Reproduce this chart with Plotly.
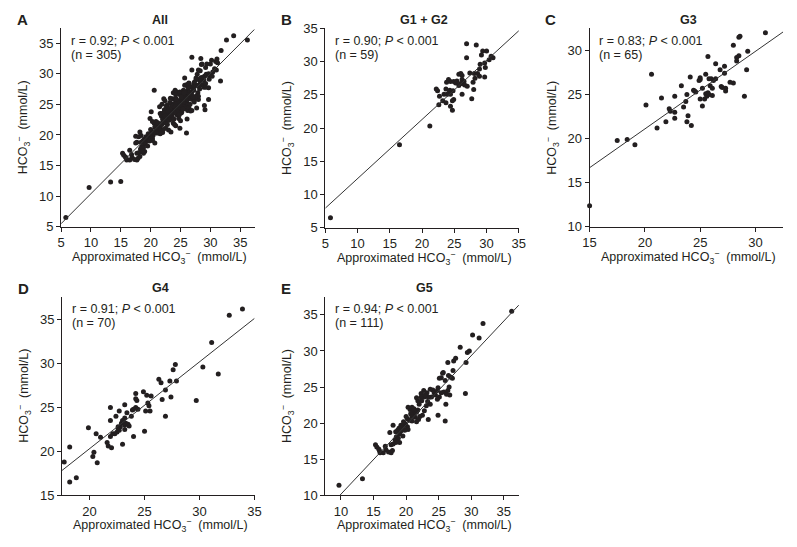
import plotly.graph_objects as go

# ==========================================================
# Approximated vs measured HCO3- by CKD stage
# ==========================================================

# ---- G1 + G2 (n = 59) ----
g12_x = [5.8, 16.5, 21.2, 26.9, 28.4, 26.9, 29.4, 30.0, 29.2, 30.7,
         31.0, 30.4, 29.7, 29.0, 28.9, 29.8, 28.1, 28.6, 27.4, 25.7,
         26.0, 26.2, 28.9, 29.7, 24.1, 24.4, 24.9, 25.2, 25.4, 26.2,
         26.5, 26.2, 23.8, 26.0, 25.7, 27.9, 26.6, 27.0, 28.2, 22.2,
         22.4, 23.7, 24.3, 24.8, 28.0, 24.2, 23.4, 23.9, 24.4, 22.7,
         26.2, 24.9, 24.7, 27.7, 23.2, 23.7, 22.6, 24.4, 24.7]
g12_y = [6.5, 17.5, 20.3, 32.7, 32.5, 30.6, 31.6, 31.6, 31.0, 30.8,
         30.6, 30.3, 29.8, 29.6, 28.9, 29.1, 28.2, 28.2, 28.3, 28.1,
         28.2, 27.9, 27.8, 27.7, 27.3, 27.0, 27.0, 26.8, 27.1, 27.3,
         27.0, 26.7, 26.9, 26.7, 26.4, 26.9, 26.5, 26.3, 27.5, 25.9,
         25.6, 25.9, 25.7, 25.6, 25.8, 25.3, 25.1, 25.1, 25.1, 24.8,
         25.1, 24.3, 24.1, 24.4, 24.1, 23.8, 23.5, 23.3, 22.7]

# ---- G3 (n = 65) ----
g3_x = [30.9, 28.5, 28.6, 28.0, 29.3, 28.3, 28.5, 28.3, 25.7, 20.6,
        29.2, 26.4, 27.2, 26.8, 25.5, 25.8, 26.0, 25.0, 24.9, 25.0,
        24.1, 26.4, 27.2, 27.7, 28.0, 26.9, 27.0, 27.3, 27.3, 25.9,
        26.1, 23.3, 24.4, 24.5, 23.8, 25.2, 25.5, 25.6, 25.7, 25.8,
        26.1, 25.0, 25.4, 25.2, 29.0, 22.7, 21.5, 20.1, 23.7, 23.5,
        22.2, 22.3, 22.7, 23.9, 22.7, 21.9, 23.8, 24.2, 21.1, 17.5,
        18.4, 19.1, 15.0, 26.2, 24.6]
g3_y = [32.0, 31.5, 31.6, 30.6, 29.9, 29.2, 29.4, 28.8, 29.3, 27.3,
        27.8, 28.5, 28.2, 27.8, 27.3, 26.8, 26.8, 26.9, 26.6, 26.7,
        27.0, 26.8, 27.4, 26.4, 26.3, 25.9, 25.8, 25.7, 25.4, 26.0,
        25.7, 26.0, 25.5, 25.4, 25.0, 25.7, 25.1, 24.8, 25.2, 25.0,
        24.9, 24.5, 24.5, 23.7, 24.8, 24.8, 24.6, 23.8, 24.2, 23.6,
        23.4, 23.1, 23.0, 22.6, 22.3, 21.9, 21.9, 21.5, 21.2, 19.8,
        19.9, 19.3, 12.4, 26.6, 25.3]

# ---- G4 (n = 70) ----
g4_x = [33.9, 32.7, 31.1, 30.3, 31.7, 29.7, 27.8, 27.6, 27.9, 27.3,
        26.3, 26.5, 26.9, 27.4, 26.6, 26.9, 25.6, 25.3, 25.4, 24.9,
        25.2, 25.1, 25.5, 24.2, 24.2, 24.3, 23.9, 24.0, 24.2, 23.8,
        23.2, 23.4, 24.0, 25.0, 23.0, 22.7, 23.2, 23.1, 22.9, 23.2,
        22.8, 23.3, 23.5, 22.4, 21.9, 21.9, 22.6, 22.5, 22.3, 22.7,
        21.9, 22.1, 21.6, 21.7, 22.0, 21.0, 20.6, 19.9, 20.4, 20.3,
        20.7, 18.2, 17.7, 18.2, 18.8, 23.0, 23.6, 22.6, 23.2, 24.4]
g4_y = [36.2, 35.5, 32.4, 29.6, 28.8, 25.8, 29.9, 29.3, 28.0, 28.0,
        28.2, 27.8, 27.0, 26.2, 25.9, 24.0, 26.3, 25.5, 25.2, 26.8,
        26.4, 24.6, 24.6, 26.6, 26.0, 25.8, 24.7, 24.8, 25.0, 24.0,
        25.3, 24.4, 21.7, 22.3, 20.8, 24.6, 23.8, 23.3, 23.2, 23.0,
        22.8, 23.2, 23.1, 24.0, 23.5, 25.0, 22.8, 22.2, 22.0, 22.4,
        21.7, 22.0, 21.0, 20.6, 20.4, 21.6, 22.0, 22.7, 19.9, 19.4,
        18.7, 20.5, 18.8, 16.5, 17.0, 23.5, 22.9, 22.6, 22.5, 24.8]

# ---- G5 (n = 111) ----
g5_x = [36.2, 31.8, 30.2, 31.2, 28.3, 29.4, 29.7, 29.2, 27.6, 27.3,
        26.4, 29.1, 25.7, 25.4, 25.1, 26.8, 27.1, 26.0, 23.7, 24.1,
        24.3, 24.5, 24.8, 25.1, 24.8, 25.8, 26.2, 26.4, 26.7, 26.1,
        24.9, 26.0, 23.4, 22.7, 22.3, 22.8, 22.3, 23.3, 23.7, 23.1,
        21.8, 21.6, 23.9, 23.4, 22.8, 22.5, 22.1, 20.3, 20.6, 20.9,
        21.0, 21.6, 21.8, 21.2, 21.4, 20.7, 20.9, 20.2, 21.6, 20.9,
        21.9, 19.9, 19.5, 20.2, 20.3, 19.2, 18.9, 18.7, 19.2, 19.0,
        18.5, 18.8, 18.3, 18.0, 17.5, 18.4, 19.0, 18.0, 17.7, 16.8,
        16.9, 17.3, 17.7, 17.9, 15.3, 15.5, 15.8, 16.5, 16.0, 15.9,
        13.3, 9.7, 21.2, 22.0, 20.5, 20.0, 19.6, 19.3, 19.8, 18.4,
        19.5, 18.6, 24.9, 23.2, 22.4, 22.9, 25.4, 26.6, 26.5, 25.6,
        27.2]
g5_y = [35.5, 33.8, 32.2, 31.8, 30.5, 29.8, 30.0, 28.4, 29.0, 28.6,
        28.4, 24.1, 27.0, 26.3, 26.2, 26.4, 26.2, 25.9, 24.7, 24.6,
        24.2, 23.9, 24.5, 23.6, 23.3, 24.3, 24.0, 24.5, 23.9, 22.6,
        21.1, 20.3, 20.5, 24.5, 24.1, 23.6, 23.6, 23.0, 22.6, 22.4,
        23.1, 23.5, 23.6, 23.6, 21.7, 21.1, 20.9, 22.2, 21.9, 22.2,
        21.7, 21.5, 21.8, 21.2, 20.8, 21.3, 20.9, 20.6, 20.2, 20.3,
        20.5, 19.9, 19.6, 19.5, 19.1, 19.7, 19.3, 19.0, 18.9, 18.5,
        18.1, 17.9, 17.7, 19.7, 18.7, 17.3, 17.3, 17.1, 17.0, 16.8,
        16.3, 16.0, 15.9, 16.2, 17.0, 16.7, 16.4, 15.9, 15.9, 16.2,
        12.3, 11.4, 22.0, 22.6, 20.4, 20.9, 20.2, 19.4, 19.0, 18.8,
        18.2, 17.4, 24.9, 24.2, 23.1, 23.9, 24.2, 25.0, 26.6, 26.9,
        27.3]

# "All" is the pooled cohort
all_x = g12_x + g3_x + g4_x + g5_x
all_y = g12_y + g3_y + g4_y + g5_y

panel_letters = ["A", "B", "C", "D", "E"]
panel_titles = ["All", "G1 + G2", "G3", "G4", "G5"]
r_values = ["0.92", "0.90", "0.83", "0.91", "0.94"]
n_values = [305, 59, 65, 70, 111]
fit_slope = [0.98, 0.89, 0.88, 0.99, 0.96]
fit_intercept = [0.6, 3.5, 3.5, 0.5, 0.55]
series = [(all_x, all_y), (g12_x, g12_y), (g3_x, g3_y), (g4_x, g4_y), (g5_x, g5_y)]

# ---- panel geometry (pixels in a 797 x 547 canvas) ----
W, H = 797, 547
panels = [
    dict(box=(55, 252, 22, 226), xr=[5, 37.4], yr=[5, 37.4],
         xt=[5, 10, 15, 20, 25, 30, 35], yt=[5, 10, 15, 20, 25, 30, 35]),
    dict(box=(324, 521, 22, 227), xr=[5, 35], yr=[5, 35],
         xt=[5, 10, 15, 20, 25, 30, 35], yt=[5, 10, 15, 20, 25, 30, 35]),
    dict(box=(593, 790, 22, 226), xr=[15, 32.5], yr=[10, 32.5],
         xt=[15, 20, 25, 30], yt=[10, 15, 20, 25, 30]),
    dict(box=(56, 252, 298, 502), xr=[17.5, 35], yr=[15, 37.6],
         xt=[20, 25, 30, 35], yt=[15, 20, 25, 30, 35]),
    dict(box=(324, 521, 298, 502), xr=[7.6, 37.3], yr=[10, 37.5],
         xt=[10, 15, 20, 25, 30, 35], yt=[10, 15, 20, 25, 30, 35]),
]

INK = "#231f20"
FONT = "Liberation Sans, Arial, sans-serif"
HCO3 = "HCO<sub>3</sub><sup>\u2212</sup>"


def px(x):
    return x / W


def py(y):
    return 1 - y / H


fig = go.Figure()
annotations = []

for i, p in enumerate(panels):
    x0, x1, y0, y1 = p["box"]
    sfx = "" if i == 0 else str(i + 1)
    xa, ya = "x" + sfx, "y" + sfx

    xs, ys = series[i]
    fig.add_trace(go.Scatter(
        x=xs, y=ys, mode="markers", xaxis=xa, yaxis=ya,
        marker=dict(color=INK, size=5, line=dict(width=0)),
        cliponaxis=False, showlegend=False, hoverinfo="skip",
    ))

    lx = p["xr"]
    ly = [fit_intercept[i] + fit_slope[i] * v for v in lx]
    fig.add_trace(go.Scatter(
        x=lx, y=ly, mode="lines", xaxis=xa, yaxis=ya,
        line=dict(color="#333333", width=1),
        showlegend=False, hoverinfo="skip",
    ))

    axis_common = dict(
        showgrid=False, zeroline=False, showline=True, linecolor=INK,
        linewidth=1, ticks="outside", ticklen=4, tickcolor=INK,
        tickfont=dict(family=FONT, size=13, color=INK), fixedrange=True,
    )
    fig.update_layout({
        ("xaxis" + sfx): dict(axis_common, domain=[px(x0), px(x1)],
                               range=p["xr"], tickvals=p["xt"], anchor=ya),
        ("yaxis" + sfx): dict(axis_common, domain=[py(y1), py(y0)],
                               range=p["yr"], tickvals=p["yt"], anchor=xa),
    })

    cx = (x0 + x1) / 2
    # panel letter
    annotations.append(dict(
        text="<b>%s</b>" % panel_letters[i], x=px(x0 - 47), y=py(y0 - 9),
        xanchor="left", yanchor="middle",
        font=dict(family=FONT, size=15, color=INK)))
    # title
    annotations.append(dict(
        text="<b>%s</b>" % panel_titles[i], x=px(cx + 2), y=py(y0 - 9),
        xanchor="center", yanchor="middle",
        font=dict(family=FONT, size=12.5, color=INK)))
    # statistics
    annotations.append(dict(
        text="r = %s; <i>P</i> < 0.001" % r_values[i], x=px(x0 + 8), y=py(y0 + 13),
        xanchor="left", yanchor="middle",
        font=dict(family=FONT, size=12.5, color=INK)))
    annotations.append(dict(
        text="(n = %d)" % n_values[i], x=px(x0 + 8), y=py(y0 + 27),
        xanchor="left", yanchor="middle",
        font=dict(family=FONT, size=12.5, color=INK)))
    # axis titles
    annotations.append(dict(
        text="Approximated %s  (mmol/L)" % HCO3, x=px(cx + 2), y=py(y1 + 31),
        xanchor="center", yanchor="middle",
        font=dict(family=FONT, size=12.5, color=INK)))
    annotations.append(dict(
        text="%s  (mmol/L)" % HCO3, x=px(x0 - 39), y=py((y0 + y1) / 2),
        xanchor="center", yanchor="middle", textangle=-90,
        font=dict(family=FONT, size=12.5, color=INK)))

for a in annotations:
    a.update(xref="paper", yref="paper", showarrow=False)

fig.update_layout(
    width=W, height=H,
    margin=dict(l=0, r=0, t=0, b=0),
    paper_bgcolor="white", plot_bgcolor="white",
    annotations=annotations,
    font=dict(family=FONT, color=INK),
)

# drop the browser's default body margin so the chart sits at the page origin
fig.write_html("out.html", config={"displayModeBar": False},
               post_script="document.body.style.margin = '0';")
